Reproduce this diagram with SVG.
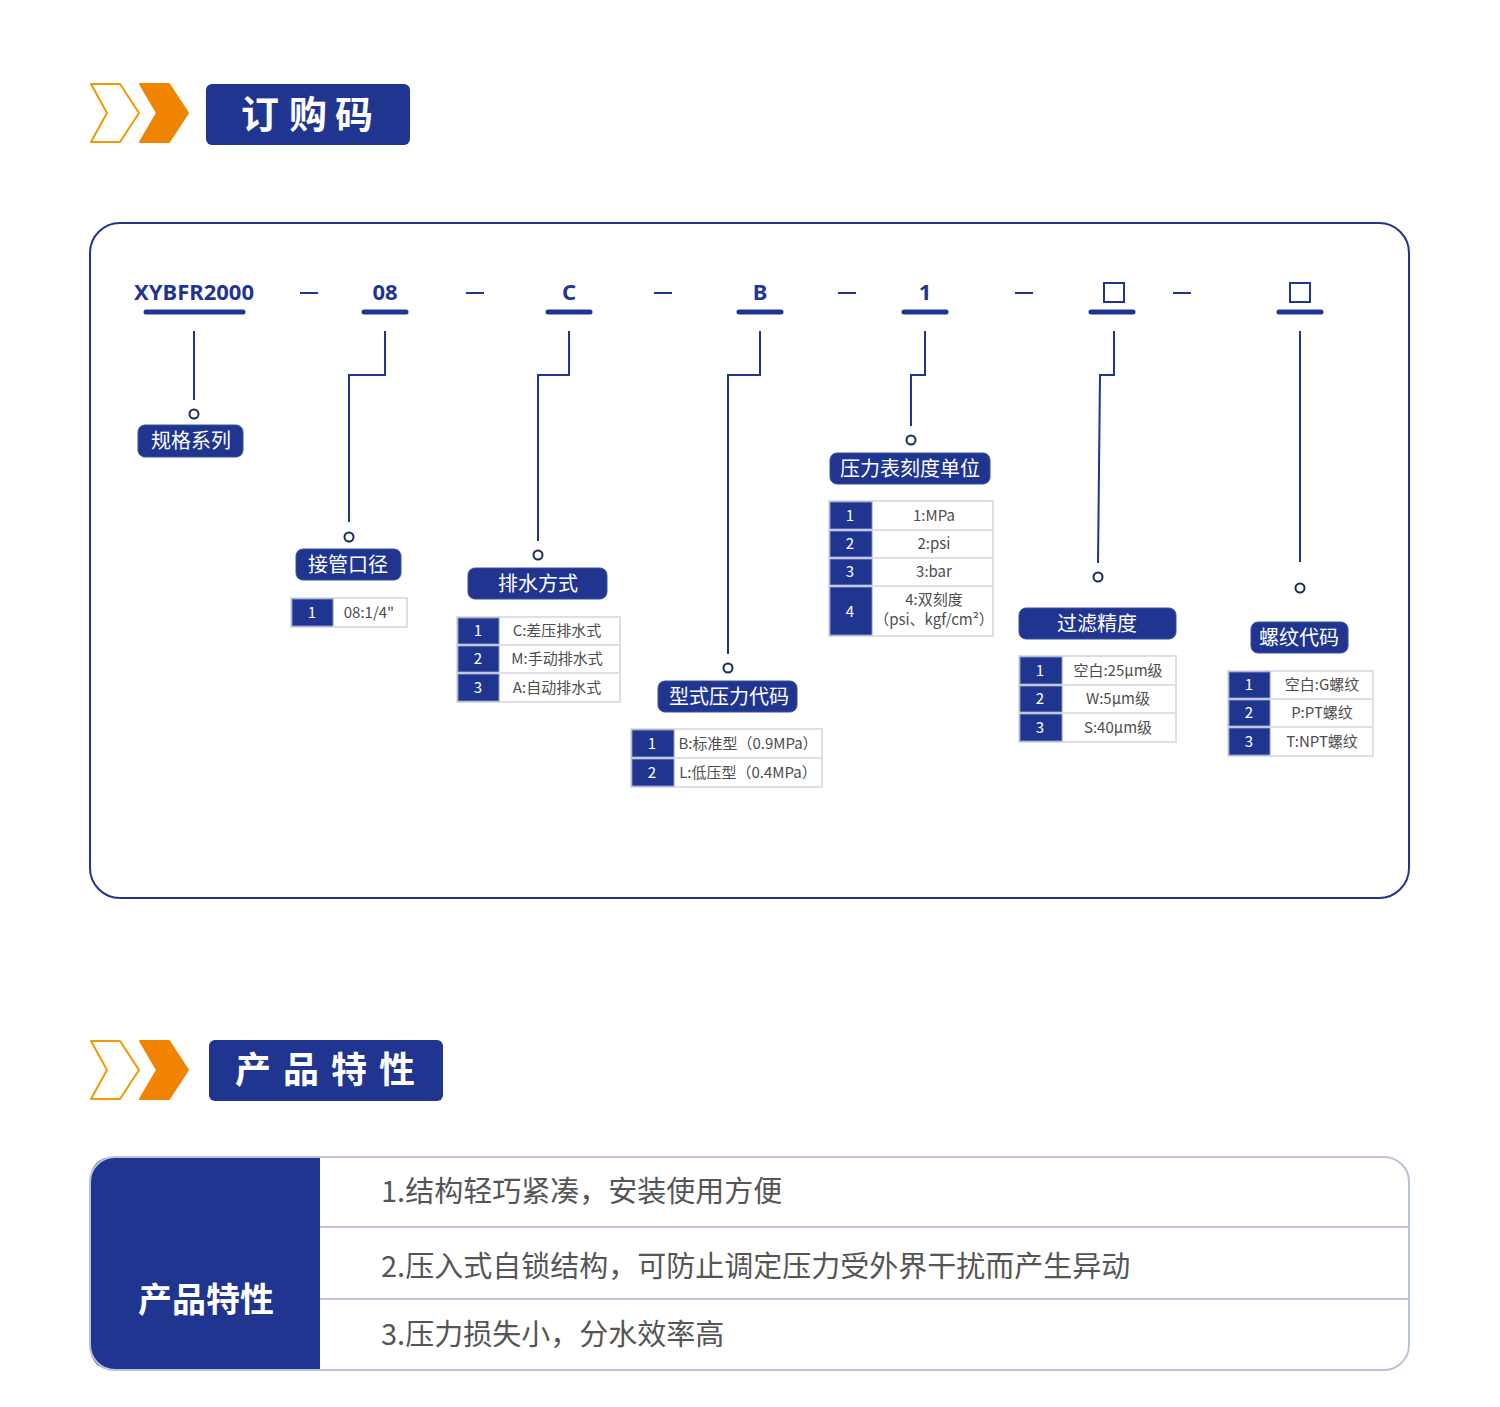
<svg xmlns="http://www.w3.org/2000/svg" width="1500" height="1407" viewBox="0 0 1500 1407">
<defs>
<style>
.t{font-family:"Noto Sans CJK SC","Noto Sans",sans-serif}
.code{font-family:"Noto Sans","Noto Sans CJK SC",sans-serif;font-weight:700;font-size:22px;fill:#1f3590;text-anchor:middle}
.bar{stroke:#1f3590;stroke-width:5;stroke-linecap:round}
.dash{stroke:#1f3590;stroke-width:2}
.conn{fill:none;stroke:#1f3590;stroke-width:2}
.ring{fill:#fff;stroke:#1c2b5e;stroke-width:2}
.pill{fill:#1f3590;stroke:#3a4ea0;stroke-width:1}
.pt{font-family:"Noto Sans CJK SC",sans-serif;font-size:20px;fill:#fff;text-anchor:middle}
.tb{fill:#fff;stroke:#dcdfe8;stroke-width:2}
.num{fill:#1f3590;stroke:#8894c4;stroke-width:1}
.nt{font-family:"Noto Sans CJK SC",sans-serif;font-size:15px;fill:#fff;text-anchor:middle}
.vt{font-family:"Noto Sans CJK SC",sans-serif;font-size:15px;fill:#4d4d4d;text-anchor:middle}
.sep{stroke:#dcdfe8;stroke-width:2}
.hd{font-family:"Noto Sans CJK SC",sans-serif;font-weight:700;fill:#fff;text-anchor:middle}
.ft{font-family:"Noto Sans CJK SC",sans-serif;font-size:29px;fill:#555}
</style>
</defs>
<rect width="1500" height="1407" fill="#fff"/>

<!-- Header 1 -->
<g id="header-order">
<path d="M91,84 L120,84 L139,113 L120,142 L91,142 L107,113 Z" fill="#fff" stroke="#f39800" stroke-width="2" stroke-linejoin="round"/>
<path d="M140,84 L169,84 L188,113 L169,142 L140,142 L157,113 Z" fill="#f08300" stroke="#f08300" stroke-width="2" stroke-linejoin="round"/>
<rect x="206" y="84" width="204" height="61" rx="6" fill="#1f3590"/>
<text class="hd" font-size="38" x="260 308 354" y="128">订购码</text>
</g>

<!-- main frame -->
<rect x="90" y="223" width="1319" height="675" rx="30" fill="none" stroke="#1f3590" stroke-width="2"/>

<!-- code row -->
<g id="code-row">
<text class="code" x="194" y="300">XYBFR2000</text>
<line class="bar" x1="146" y1="312" x2="243" y2="312"/>
<text class="code" x="385" y="300">08</text>
<line class="bar" x1="364" y1="312" x2="406" y2="312"/>
<text class="code" x="569" y="300">C</text>
<line class="bar" x1="548" y1="312" x2="590" y2="312"/>
<text class="code" x="760" y="300">B</text>
<line class="bar" x1="739" y1="312" x2="781" y2="312"/>
<text class="code" x="925" y="300">1</text>
<line class="bar" x1="904" y1="312" x2="946" y2="312"/>
<rect x="1104" y="283" width="20" height="19" fill="none" stroke="#1f3590" stroke-width="2"/>
<line class="bar" x1="1091" y1="312" x2="1133" y2="312"/>
<rect x="1290" y="283" width="20" height="19" fill="none" stroke="#1f3590" stroke-width="2"/>
<line class="bar" x1="1279" y1="312" x2="1321" y2="312"/>
<line class="dash" x1="300" y1="293" x2="318" y2="293"/>
<line class="dash" x1="466" y1="293" x2="484" y2="293"/>
<line class="dash" x1="654" y1="293" x2="672" y2="293"/>
<line class="dash" x1="838" y1="293" x2="856" y2="293"/>
<line class="dash" x1="1015" y1="293" x2="1033" y2="293"/>
<line class="dash" x1="1173" y1="293" x2="1191" y2="293"/>
</g>

<!-- connectors -->
<g id="connectors">
<polyline class="conn" points="194,331 194,400"/>
<polyline class="conn" points="385,331 385,375 349,375 349,522"/>
<polyline class="conn" points="569,331 569,375 538,375 538,541"/>
<polyline class="conn" points="760,331 760,375 728,375 728,654"/>
<polyline class="conn" points="925,331 925,375 911,375 911,426"/>
<polyline class="conn" points="1114,331 1114,375 1100,375 1098,563"/>
<polyline class="conn" points="1300,331 1300,562"/>
<circle class="ring" cx="194" cy="414" r="4.5"/>
<circle class="ring" cx="349" cy="537" r="4.5"/>
<circle class="ring" cx="538" cy="555" r="4.5"/>
<circle class="ring" cx="728" cy="668" r="4.5"/>
<circle class="ring" cx="911" cy="440" r="4.5"/>
<circle class="ring" cx="1098" cy="577" r="4.5"/>
<circle class="ring" cx="1300" cy="588" r="4.5"/>
</g>

<!-- 规格系列 -->
<g id="node-spec">
<rect class="pill" x="138" y="425" width="105" height="32" rx="7"/>
<text class="pt" x="191" y="448">规格系列</text>
</g>

<!-- 接管口径 -->
<g id="node-port">
<rect class="pill" x="296" y="549" width="105" height="31" rx="7"/>
<text class="pt" x="348" y="572">接管口径</text>
<rect class="tb" x="291" y="598" width="116" height="29"/>
<rect class="num" x="292" y="599" width="41" height="27"/>
<text class="nt" x="312" y="618">1</text>
<text class="vt" x="369" y="618">08:1/4"</text>
</g>

<!-- 排水方式 -->
<g id="node-drain">
<rect class="pill" x="468" y="568" width="139" height="31" rx="7"/>
<text class="pt" x="538" y="591">排水方式</text>
<rect class="tb" x="457" y="617" width="163" height="85"/>
<rect class="num" x="458" y="618" width="41" height="26"/>
<rect class="num" x="458" y="646" width="41" height="26"/>
<rect class="num" x="458" y="674" width="41" height="27"/>
<line class="sep" x1="499" y1="645" x2="620" y2="645"/>
<line class="sep" x1="499" y1="673" x2="620" y2="673"/>
<text class="nt" x="478" y="636">1</text>
<text class="nt" x="478" y="664">2</text>
<text class="nt" x="478" y="693">3</text>
<text class="vt" x="557" y="636">C:差压排水式</text>
<text class="vt" x="557" y="664">M:手动排水式</text>
<text class="vt" x="557" y="693">A:自动排水式</text>
</g>

<!-- 型式压力代码 -->
<g id="node-type">
<rect class="pill" x="658" y="681" width="139" height="31" rx="7"/>
<text class="pt" x="729" y="704">型式压力代码</text>
<rect class="tb" x="631" y="729" width="191" height="58"/>
<rect class="num" x="632" y="730" width="42" height="27"/>
<rect class="num" x="632" y="759" width="42" height="27"/>
<line class="sep" x1="674" y1="758" x2="822" y2="758"/>
<text class="nt" x="652" y="749">1</text>
<text class="nt" x="652" y="778">2</text>
<text class="vt" x="748" y="749">B:标准型（0.9MPa）</text>
<text class="vt" x="748" y="778">L:低压型（0.4MPa）</text>
</g>

<!-- 压力表刻度单位 -->
<g id="node-gauge">
<rect class="pill" x="830" y="453" width="160" height="31" rx="7"/>
<text class="pt" x="910" y="476">压力表刻度单位</text>
<rect class="tb" x="829" y="501" width="164" height="135"/>
<rect class="num" x="830" y="502" width="42" height="27"/>
<rect class="num" x="830" y="531" width="42" height="26"/>
<rect class="num" x="830" y="559" width="42" height="26"/>
<rect class="num" x="830" y="587" width="42" height="48"/>
<line class="sep" x1="872" y1="530" x2="993" y2="530"/>
<line class="sep" x1="872" y1="558" x2="993" y2="558"/>
<line class="sep" x1="872" y1="586" x2="993" y2="586"/>
<text class="nt" x="850" y="521">1</text>
<text class="nt" x="850" y="549">2</text>
<text class="nt" x="850" y="577">3</text>
<text class="nt" x="850" y="617">4</text>
<text class="vt" x="934" y="521">1:MPa</text>
<text class="vt" x="934" y="549">2:psi</text>
<text class="vt" x="934" y="577">3:bar</text>
<text class="vt" x="934" y="605">4:双刻度</text>
<text class="vt" x="934" y="625">（psi、kgf/cm²）</text>
</g>

<!-- 过滤精度 -->
<g id="node-filter">
<rect class="pill" x="1019" y="608" width="157" height="31" rx="7"/>
<text class="pt" x="1097" y="631">过滤精度</text>
<rect class="tb" x="1019" y="656" width="157" height="86"/>
<rect class="num" x="1020" y="657" width="42" height="27"/>
<rect class="num" x="1020" y="686" width="42" height="26"/>
<rect class="num" x="1020" y="714" width="42" height="27"/>
<line class="sep" x1="1062" y1="685" x2="1176" y2="685"/>
<line class="sep" x1="1062" y1="713" x2="1176" y2="713"/>
<text class="nt" x="1040" y="676">1</text>
<text class="nt" x="1040" y="704">2</text>
<text class="nt" x="1040" y="733">3</text>
<text class="vt" x="1118" y="676">空白:25μm级</text>
<text class="vt" x="1118" y="704">W:5μm级</text>
<text class="vt" x="1118" y="733">S:40μm级</text>
</g>

<!-- 螺纹代码 -->
<g id="node-thread">
<rect class="pill" x="1251" y="622" width="97" height="31" rx="7"/>
<text class="pt" x="1299" y="645">螺纹代码</text>
<rect class="tb" x="1228" y="671" width="145" height="85"/>
<rect class="num" x="1229" y="672" width="41" height="26"/>
<rect class="num" x="1229" y="700" width="41" height="26"/>
<rect class="num" x="1229" y="728" width="41" height="27"/>
<line class="sep" x1="1270" y1="699" x2="1373" y2="699"/>
<line class="sep" x1="1270" y1="727" x2="1373" y2="727"/>
<text class="nt" x="1249" y="690">1</text>
<text class="nt" x="1249" y="718">2</text>
<text class="nt" x="1249" y="747">3</text>
<text class="vt" x="1322" y="690">空白:G螺纹</text>
<text class="vt" x="1322" y="718">P:PT螺纹</text>
<text class="vt" x="1322" y="747">T:NPT螺纹</text>
</g>

<!-- Header 2 -->
<g id="header-features">
<path d="M91,1041 L120,1041 L139,1070 L120,1099 L91,1099 L107,1070 Z" fill="#fff" stroke="#f39800" stroke-width="2" stroke-linejoin="round"/>
<path d="M140,1041 L169,1041 L188,1070 L169,1099 L140,1099 L157,1070 Z" fill="#f08300" stroke="#f08300" stroke-width="2" stroke-linejoin="round"/>
<rect x="209" y="1040" width="234" height="61" rx="6" fill="#1f3590"/>
<text class="hd" font-size="36" x="253 301 349 397" y="1083">产品特性</text>
</g>

<!-- features table -->
<g id="features-table">
<path d="M320,1157 L1384,1157 Q1409,1157 1409,1182 L1409,1345 Q1409,1370 1384,1370 L320,1370 Z" fill="#fff"/>
<path d="M115,1157 L320,1157 L320,1370 L115,1370 Q90,1370 90,1345 L90,1182 Q90,1157 115,1157 Z" fill="#1f3590"/>
<line x1="320" y1="1227" x2="1409" y2="1227" stroke="#b9c3dc" stroke-width="2"/>
<line x1="320" y1="1299" x2="1409" y2="1299" stroke="#b9c3dc" stroke-width="2"/>
<rect x="90" y="1157" width="1319" height="213" rx="25" fill="none" stroke="#b9c3dc" stroke-width="2"/>
<text class="hd" font-size="34" x="206" y="1312">产品特性</text>
<text class="ft" x="381" y="1202">1.结构轻巧紧凑，安装使用方便</text>
<text class="ft" x="381" y="1277">2.压入式自锁结构，可防止调定压力受外界干扰而产生异动</text>
<text class="ft" x="381" y="1345">3.压力损失小，分水效率高</text>
</g>
</svg>
